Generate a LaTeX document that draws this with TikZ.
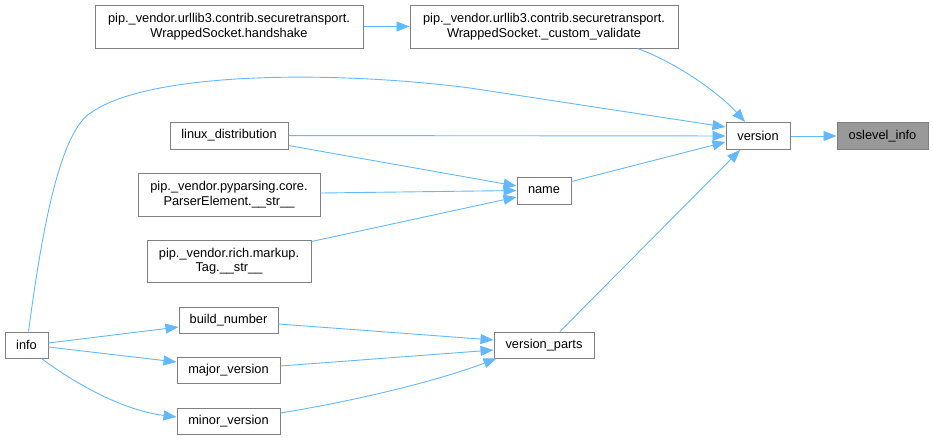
\documentclass[tikz,border=0pt]{standalone}
\usepackage{fontspec}
\setmainfont{Liberation Sans}
\usetikzlibrary{arrows.meta}
\definecolor{edgeblue}{HTML}{63B8FF}
\definecolor{boxline}{HTML}{808080}
\definecolor{hilite}{HTML}{999999}
\tikzset{
  fn/.style={draw=boxline, line width=1pt, fill=white, inner sep=0pt, align=center,
    font=\fontsize{12.8}{14.5}\selectfont, text=black},
  call/.style={draw=edgeblue, line width=0.9pt, -{Triangle[length=13pt,width=10pt]}},
}
\begin{document}
\begin{tikzpicture}[x=1pt,y=-1pt]
\useasboundingbox (0,0) rectangle (933,440);
% nodes
\node[fn, minimum width=268pt, minimum height=43pt] (hs) at (229,26.5) {pip.\_vendor.urllib3.contrib.securetransport.\\WrappedSocket.handshake};
\node[fn, minimum width=268pt, minimum height=43pt] (cv) at (544,26.5) {pip.\_vendor.urllib3.contrib.securetransport.\\WrappedSocket.\_custom\_validate};
\node[fn, minimum width=64pt, minimum height=27pt] (ver) at (758,136) {version};
\node[fn, fill=hilite, minimum width=91pt, minimum height=27pt] (os) at (882.5,136) {oslevel\_info};
\node[fn, minimum width=118pt, minimum height=27pt] (lin) at (229,135.5) {linux\_distribution};
\node[fn, minimum width=54pt, minimum height=27pt] (nm) at (544,190.5) {name};
\node[fn, minimum width=182pt, minimum height=43pt] (pp) at (229,194.5) {pip.\_vendor.pyparsing.core.\\ParserElement.\_\_str\_\_};
\node[fn, minimum width=164pt, minimum height=42pt] (tag) at (229,261) {pip.\_vendor.rich.markup.\\Tag.\_\_str\_\_};
\node[fn, minimum width=99pt, minimum height=26pt] (bn) at (228.5,320) {build\_number};
\node[fn, minimum width=103pt, minimum height=26pt] (mj) at (228.5,370) {major\_version};
\node[fn, minimum width=103pt, minimum height=26pt] (mn) at (228.5,421) {minor\_version};
\node[fn, minimum width=43pt, minimum height=26pt] (info) at (26.5,345) {info};
\node[fn, minimum width=100pt, minimum height=26pt] (vp) at (544,345) {version\_parts};
% anchor points (yshift: positive = up)
\coordinate (cvs) at ([xshift=-41pt]cv.south east);
\coordinate (vtop) at ([xshift=-13pt]ver.north);
\coordinate (infot) at ([xshift=2pt]info.north);
\coordinate (vl1) at ([yshift=9pt]ver.west);
\coordinate (lin2) at ([yshift=-10pt]lin.east);
\coordinate (pp2) at ([yshift=1.5pt]pp.east);
\coordinate (tag2) at ([yshift=-2pt]tag.north east);
\coordinate (nm2) at ([yshift=-5pt]nm.north east);
\coordinate (vpt) at ([xshift=16pt]vp.north);
\coordinate (i1) at ([yshift=2pt]info.east);
\coordinate (i2) at ([yshift=-2pt]info.east);
\coordinate (i3) at ([xshift=15pt]info.south);
\coordinate (b2) at ([yshift=-4pt]bn.east);
\coordinate (m2) at ([yshift=4pt]mj.east);
\coordinate (n2) at ([yshift=8pt]mn.east);
% edges
\draw[call] (hs) -- (cv);
\draw[call] (cvs) .. controls (680,64) and (722,96) .. (vtop);
\draw[call] (infot) .. controls (42,230) and (60,130) .. (92,112) .. controls (150,72) and (330,70) .. (470,88) -- (vl1);
\draw[call] (lin) -- (ver);
\draw[call] (lin2) -- ([yshift=4.5pt]nm.west);
\draw[call] (pp2) -- (nm.west);
\draw[call] (tag2) -- ([yshift=-6.5pt]nm.west);
\draw[call] (nm2) -- ([yshift=-6pt]ver.west);
\draw[call] (vpt) -- ([xshift=-18pt]ver.south);
\draw[call] (ver) -- (os);
\draw[call] (i1) -- ([yshift=-7pt]bn.west);
\draw[call] (i2) -- ([yshift=8pt]mj.west);
\draw[call] (i3) .. controls (70,380) and (120,410) .. ([yshift=4pt]mn.west);
\draw[call] (b2) -- ([yshift=5pt]vp.west);
\draw[call] (m2) -- ([yshift=-5pt]vp.west);
\draw[call] (n2) .. controls (360,400) and (440,380) .. ([xshift=3pt]vp.south west);
\end{tikzpicture}
\end{document}
